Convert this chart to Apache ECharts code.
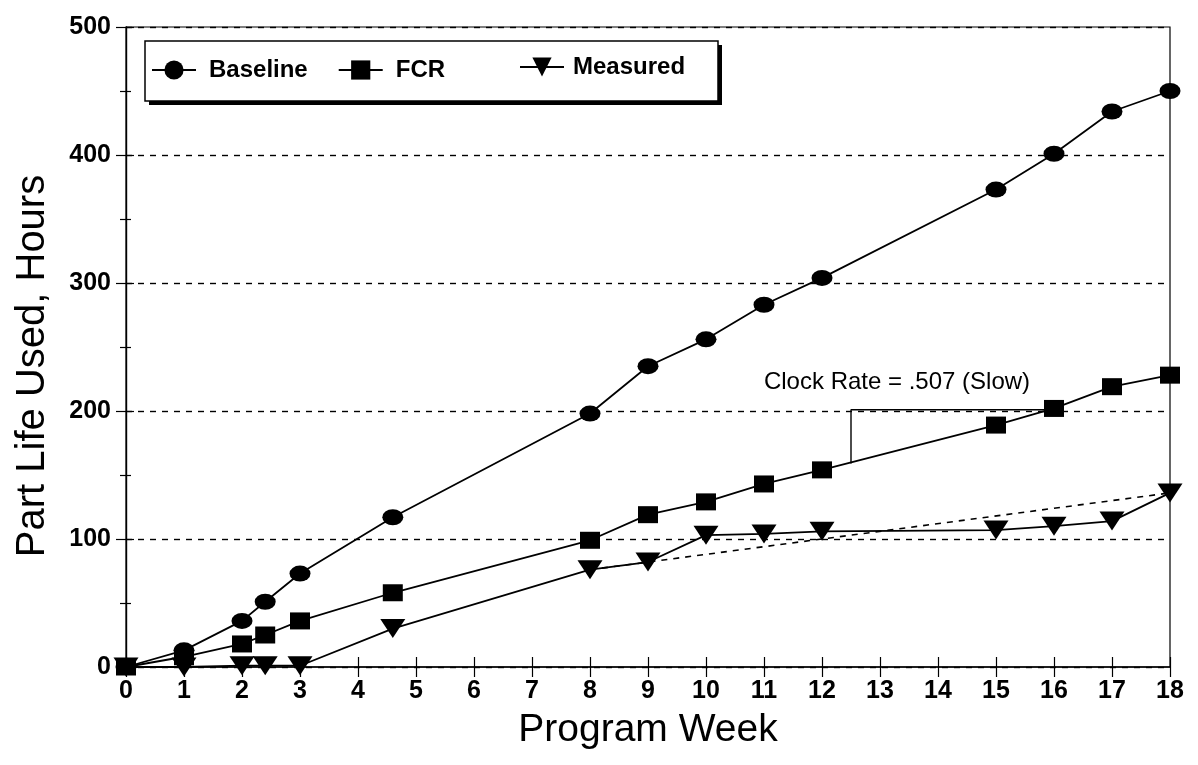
<!DOCTYPE html>
<html>
<head>
<meta charset="utf-8">
<script src="https://cdn.jsdelivr.net/npm/echarts@6/dist/echarts.min.js"></script>
<style>
  html, body { margin: 0; padding: 0; background: #fff; }
  #chart { width: 1198px; height: 765px; }
</style>
</head>
<body>
<div id="chart"></div>
<script>
// ---- data ----
const weeks    = [0, 1, 2, 2.4, 3, 4.6, 8, 9, 10, 11, 12, 15, 16, 17, 18];
const baseline = [0, 13, 36, 51, 73, 117, 198, 235, 256, 283, 304, 373, 401, 434, 450];
const fcr      = [0, 8, 18, 25, 36, 58, 99, 119, 129, 143, 154, 189, 202, 219, 228];
const measured = [0, 0, 1, 1, 1, 30, 76, 82, 103, 104, 106, 107, 110, 114, 136];
const measuredTrend  = [[8, 76], [18, 136]];
const clockRateGuide = [[12.5, 159], [12.5, 201], [15.85, 201]];
const xTicks = [0, 18, 1];     // min, max, interval
const yTicks = [0, 500, 100];  // min, max, interval
const seriesNames = ['Baseline', 'FCR', 'Measured'];
const annotationText = 'Clock Rate = .507 (Slow)';
const xTitle = 'Program Week';
const yTitle = 'Part Life Used, Hours';

const pairs = (ys) => weeks.map((w, i) => [w, ys[i]]);
const FONT = 'Liberation Sans, Arial, sans-serif';
const black = '#000';

const chart = echarts.init(document.getElementById('chart'), null, { renderer: 'canvas' });

const lineStyle = { color: black, width: 1.8 };

const option = {
  backgroundColor: '#fff',
  animation: false,
  grid: {
    left: 126, right: 28, top: 27, bottom: 98,
    show: true, borderColor: black, borderWidth: 1.2, backgroundColor: 'transparent'
  },
  xAxis: [
    {
      type: 'value', min: xTicks[0], max: xTicks[1], interval: xTicks[2], position: 'bottom',
      name: xTitle, nameLocation: 'middle', nameGap: 44,
      nameTextStyle: { fontFamily: FONT, fontSize: 39, color: black },
      axisLine: { show: true, onZero: false, lineStyle: { color: black, width: 1.6 } },
      axisTick: { show: true, inside: false, length: 10, lineStyle: { color: black, width: 1.2 } },
      axisLabel: { margin: 12, fontFamily: FONT, fontSize: 25, fontWeight: 'bold', color: black },
      splitLine: { show: false }
    },
    {
      type: 'value', min: xTicks[0], max: xTicks[1], interval: xTicks[2], position: 'bottom',
      axisLine: { show: false },
      axisTick: { show: true, inside: true, length: 10, lineStyle: { color: black, width: 1.2 } },
      axisLabel: { show: false },
      splitLine: { show: false }
    }
  ],
  yAxis: [
    {
      type: 'value', min: yTicks[0], max: yTicks[1], interval: yTicks[2], position: 'left',
      axisLine: { show: true, onZero: false, lineStyle: { color: black, width: 1.4 } },
      axisTick: { show: true, inside: false, length: 10, lineStyle: { color: black, width: 1.2 } },
      minorTick: { show: true, splitNumber: 2, length: 6, lineStyle: { color: black, width: 1.2 } },
      axisLabel: { margin: 15, fontFamily: FONT, fontSize: 25, fontWeight: 'bold', color: black },
      splitLine: { show: true, lineStyle: { color: black, width: 1.4, type: [6, 6] } }
    },
    {
      type: 'value', min: yTicks[0], max: yTicks[1], interval: yTicks[2], position: 'left',
      axisLine: { show: false },
      axisTick: { show: true, inside: true, length: 8, lineStyle: { color: black, width: 1.2 } },
      minorTick: { show: true, splitNumber: 2, length: 5, lineStyle: { color: black, width: 1.2 } },
      axisLabel: { show: false },
      splitLine: { show: false }
    }
  ],
  legend: [
    {
      data: [seriesNames[0], seriesNames[1]],
      left: 151, top: 58, padding: 0, itemGap: 30, z: 20,
      itemWidth: 44, itemHeight: 24,
      textStyle: { fontFamily: FONT, fontSize: 24, fontWeight: 'bold', color: black, padding: [0, 0, 0, 8] }
    },
    {
      data: [seriesNames[2]],
      left: 519, top: 55, padding: 0, z: 20,
      itemWidth: 44, itemHeight: 24,
      textStyle: { fontFamily: FONT, fontSize: 24, fontWeight: 'bold', color: black, padding: [0, 0, 0, 4] }
    }
  ],
  graphic: [
    { type: 'rect', z: 8, shape: { x: 149, y: 45, width: 573, height: 60 }, style: { fill: black } },
    { type: 'rect', z: 9, shape: { x: 145, y: 41, width: 573, height: 60 }, style: { fill: '#fff', stroke: black, lineWidth: 1.5 } },
    {
      type: 'text', z: 9,
      style: { text: annotationText, x: 897, y: 382, textAlign: 'center', textVerticalAlign: 'middle', fontFamily: FONT, fontSize: 24, fill: black }
    },
    {
      type: 'text', z: 9, x: 33, y: 366, rotation: Math.PI / 2,
      style: { text: yTitle, x: 0, y: 0, textAlign: 'center', textVerticalAlign: 'middle', fontFamily: FONT, fontSize: 40, fill: black }
    }
  ],
  series: [
    {
      name: seriesNames[0], type: 'line', data: pairs(baseline), z: 3,
      symbol: 'circle', symbolSize: [21, 16], showAllSymbol: true,
      lineStyle: lineStyle, itemStyle: { color: black }
    },
    {
      name: seriesNames[1], type: 'line', data: pairs(fcr), z: 3,
      symbol: 'rect', symbolSize: [20, 17],
      lineStyle: lineStyle, itemStyle: { color: black }
    },
    {
      name: seriesNames[2], type: 'line', data: pairs(measured), z: 3,
      symbol: 'triangle', symbolRotate: 180, symbolSize: [25, 19],
      lineStyle: lineStyle, itemStyle: { color: black }
    },
    {
      name: 'trend', type: 'line', data: measuredTrend, z: 2,
      symbol: 'none', lineStyle: { color: black, width: 1.6, type: [6, 6] }
    },
    {
      name: 'clockRate', type: 'line', data: clockRateGuide, z: 2,
      symbol: 'none', lineStyle: { color: black, width: 1.4 }
    }
  ]
};
chart.setOption(option);
</script>
</body>
</html>
